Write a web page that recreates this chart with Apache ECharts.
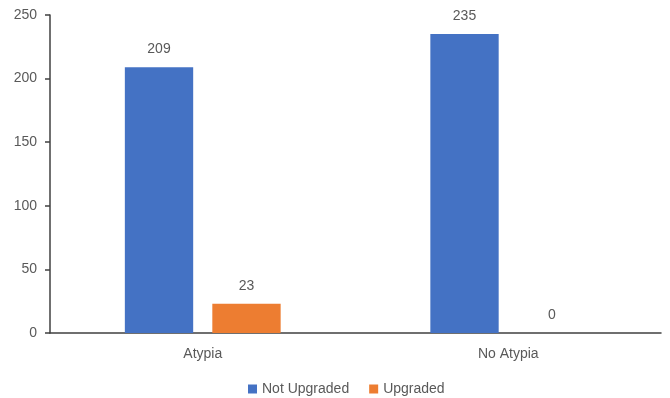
<!DOCTYPE html>
<html>
<head>
<meta charset="utf-8">
<script src="https://cdn.jsdelivr.net/npm/echarts@6/dist/echarts.min.js"></script>
<style>
  html, body { margin: 0; padding: 0; background: #fff; }
  #chart { width: 670px; height: 398px; }
</style>
</head>
<body>
<div id="chart"></div>
<script>
// data
const categories = ['Atypia', 'No Atypia'];
const notUpgraded = [209, 235];
const upgraded = [23, 0];
const yTicks = [0, 50, 100, 150, 200, 250];

const font = 'Liberation Sans, Arial, sans-serif';
const textColor = '#595959';

const chart = echarts.init(document.getElementById('chart'), null, { renderer: 'canvas' });

function barSeries(name, data, color) {
    return {
        name: name,
        type: 'bar',
        data: data,
        barGap: '28%',
        barCategoryGap: '49%',
        itemStyle: { color: color },
        label: {
            show: true,
            position: 'top',
            distance: 11,
            color: textColor,
            fontFamily: font,
            fontSize: 14,
        },
    };
}

chart.setOption({
    animation: false,
    textStyle: { fontFamily: font },
    grid: { left: 50, right: 9, top: 15, bottom: 65 },
    legend: {
        top: 377,
        left: 243,
        itemWidth: 9,
        itemHeight: 9,
        itemGap: 20,
        icon: 'rect',
        textStyle: { color: textColor, fontSize: 14, fontFamily: font },
        data: ['Not Upgraded', 'Upgraded'],
    },
    xAxis: {
        type: 'category',
        data: categories,
        axisLine: { lineStyle: { color: '#404040', width: 1.5 } },
        axisTick: { show: false },
        axisLabel: { color: textColor, fontSize: 14, fontFamily: font, margin: 14 },
    },
    yAxis: {
        type: 'value',
        min: yTicks[0],
        max: yTicks[yTicks.length - 1],
        interval: yTicks[1] - yTicks[0],
        splitLine: { show: false },
        axisLine: { show: true, lineStyle: { color: '#404040', width: 1.5 } },
        axisTick: { show: true, length: 5, lineStyle: { color: '#404040', width: 1.5 } },
        axisLabel: { color: textColor, fontSize: 14, fontFamily: font, margin: 13 },
    },
    series: [
        barSeries('Not Upgraded', notUpgraded, '#4472C4'),
        barSeries('Upgraded', upgraded, '#ED7D31'),
    ],
});
</script>
</body>
</html>
